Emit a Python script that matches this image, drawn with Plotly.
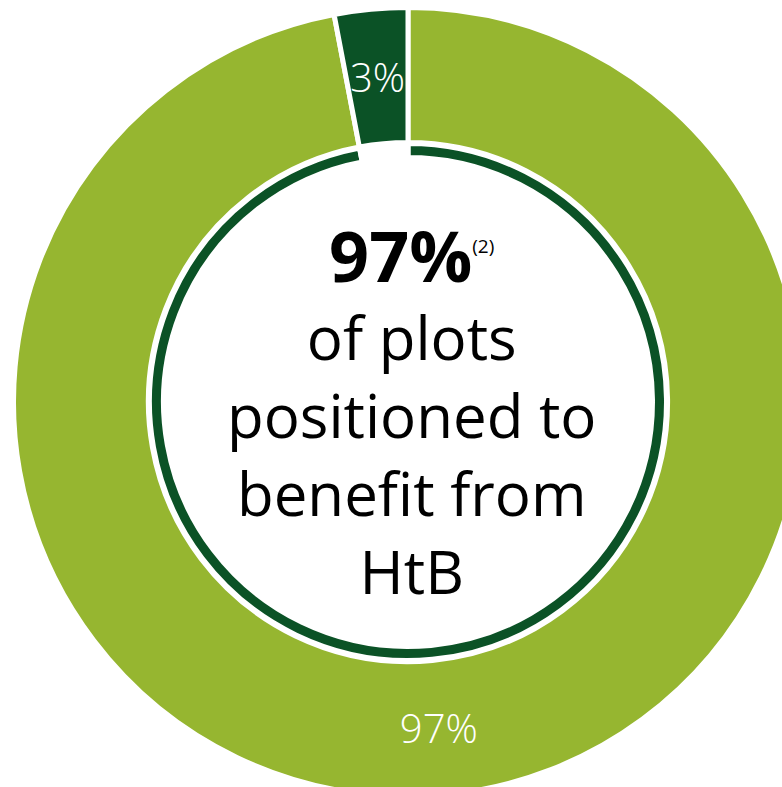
import math
import plotly.graph_objects as go

# ---- data ----
categories = ["Positioned to benefit from HtB", "Not positioned"]
values = [97, 3]
inner_values = [97, 3]
headline = "97%"
footnote = "(2)"
caption_lines = ["of plots", "positioned to", "benefit from", "HtB"]

LIGHT = "#96B630"
DARK = "#0B5226"

W, H = 816, 800
cx, cy = 408, 402  # centre in pixels from top-left


def dom(r):
    return dict(x=[(cx - r) / W, (cx + r) / W],
                y=[(H - cy - r) / H, (H - cy + r) / H])


fig = go.Figure()
R1 = 394.5
HOLE1 = 0.658
label_font = dict(color="white", size=40, family="Open Sans", weight=300)
fig.add_trace(go.Pie(
    labels=categories, values=values, sort=False, direction="clockwise",
    rotation=0, hole=HOLE1, domain=dom(R1),
    marker=dict(colors=[LIGHT, DARK], line=dict(color="white", width=5)),
    texttemplate="%{value}%", textposition=["inside", "none"],
    insidetextorientation="horizontal",
    textfont=label_font,
    hoverinfo="label+percent", showlegend=False,
))
R2 = 258.5
fig.add_trace(go.Pie(
    labels=categories, values=inner_values, sort=False, direction="clockwise",
    rotation=0, hole=0.9458, domain=dom(R2),
    marker=dict(colors=[DARK, "rgba(0,0,0,0)"], line=dict(color="white", width=5)),
    textposition="none", hoverinfo="skip", showlegend=False,
))

# label of the thin slice, placed at the slice's mid-angle (computed from the data)
total = sum(values)
start = values[0] / total * 360
mid = math.radians(start + values[1] / total * 360 / 2)
rmid = (R1 * HOLE1 + R1) / 2
lx = cx + rmid * math.sin(mid)
ly = cy - rmid * math.cos(mid)
fig.add_annotation(x=lx / W, y=1 - ly / H, xref="paper", yref="paper",
                   text=f"{values[1]}%", showarrow=False, font=label_font,
                   xanchor="center", yanchor="middle")

centre_text = ("<span style='font-size:70px'><b>" + headline + "</b>"
               "<sup><span style='font-size:19px'>" + footnote + "</span></sup></span><br>"
               + "<br>".join(caption_lines))
fig.add_annotation(x=411 / W, y=1 - 409 / H, xref="paper", yref="paper",
                   text=centre_text, showarrow=False,
                   font=dict(size=60, color="black", family="Open Sans"),
                   xanchor="center", yanchor="middle", align="center")

fig.update_layout(width=W, height=H, margin=dict(l=0, r=0, t=0, b=0),
                  paper_bgcolor="white", plot_bgcolor="white", showlegend=False)

fig.write_html("out.html", post_script=(
    "document.documentElement.style.overflow='hidden';"
    "document.body.style.overflow='hidden';document.body.style.margin='0';"))
